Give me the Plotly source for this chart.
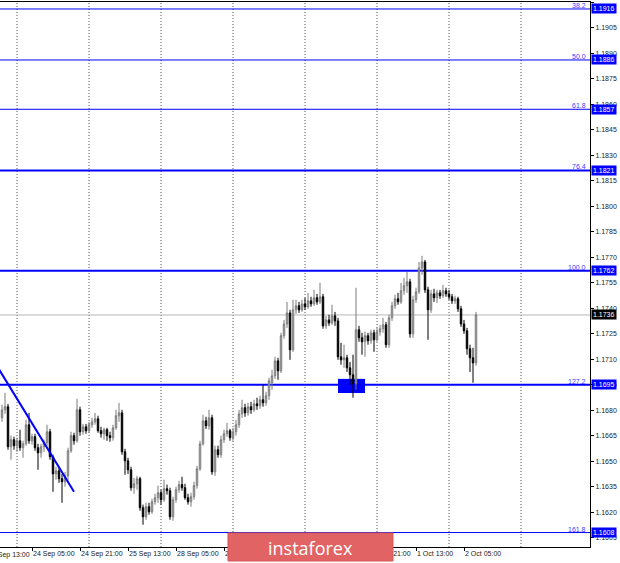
import plotly.graph_objects as go

# ---------------- data (EURUSD H1) ----------------
opens = [1.16755,1.16802,1.16820,1.16585,1.16626,1.16591,1.16620,1.16579,1.16602,1.16714,
         1.16620,1.16644,1.16579,1.16549,1.16585,1.16608,1.16673,1.16526,1.16425,1.16443,
         1.16397,1.16379,1.16414,1.16561,1.16650,1.16620,1.16802,1.16673,1.16702,1.16679,
         1.16714,1.16731,1.16749,1.16679,1.16661,1.16685,1.16650,1.16638,1.16696,1.16767,
         1.16784,1.16555,1.16502,1.16449,1.16344,1.16367,1.16397,1.16226,1.16173,1.16232,
         1.16202,1.16261,1.16285,1.16314,1.16273,1.16338,1.16326,1.16173,1.16273,1.16332,
         1.16362,1.16344,1.16285,1.16261,1.16291,1.16356,1.16455,1.16602,1.16737,1.16708,
         1.16755,1.16437,1.16567,1.16538,1.16626,1.16661,1.16679,1.16638,1.16673,1.16714,
         1.16778,1.16814,1.16784,1.16820,1.16802,1.16837,1.16826,1.16861,1.16843,1.16885,
         1.16961,1.17002,1.17090,1.17031,1.17238,1.17307,1.17372,1.17155,1.17390,1.17414,
         1.17390,1.17425,1.17408,1.17443,1.17425,1.17461,1.17437,1.17467,1.17296,1.17331,
         1.17313,1.17355,1.17325,1.17114,1.17096,1.17108,1.17049,1.17008,1.16955,1.17273,
         1.17226,1.17202,1.17238,1.17208,1.17255,1.17214,1.17261,1.17279,1.17302,1.17185,
         1.17343,1.17414,1.17455,1.17437,1.17502,1.17532,1.17555,1.17249,1.17449,1.17496,
         1.17637,1.17672,1.17508,1.17390,1.17484,1.17461,1.17490,1.17473,1.17502,1.17484,
         1.17467,1.17443,1.17455,1.17396,1.17307,1.17267,1.17161,1.17108,1.17078]
highs = [1.16832,1.16902,1.16837,1.16650,1.16644,1.16638,1.16685,1.16620,1.16743,1.16784,
         1.16661,1.16661,1.16602,1.16602,1.16626,1.16714,1.16690,1.16538,1.16467,1.16461,
         1.16425,1.16437,1.16579,1.16673,1.16667,1.16867,1.16820,1.16719,1.16719,1.16731,
         1.16755,1.16784,1.16767,1.16702,1.16696,1.16696,1.16673,1.16714,1.16802,1.16843,
         1.16802,1.16573,1.16520,1.16467,1.16402,1.16414,1.16408,1.16244,1.16255,1.16255,
         1.16279,1.16308,1.16356,1.16332,1.16391,1.16362,1.16344,1.16291,1.16350,1.16385,
         1.16408,1.16367,1.16308,1.16314,1.16379,1.16473,1.16620,1.16773,1.16761,1.16802,
         1.16773,1.16591,1.16591,1.16650,1.16685,1.16725,1.16690,1.16696,1.16743,1.16802,
         1.16861,1.16837,1.16843,1.16849,1.16861,1.16873,1.16885,1.16949,1.16908,1.16990,
         1.17037,1.17114,1.17108,1.17255,1.17331,1.17437,1.17390,1.17449,1.17449,1.17437,
         1.17449,1.17461,1.17490,1.17467,1.17508,1.17484,1.17549,1.17484,1.17355,1.17361,
         1.17420,1.17378,1.17343,1.17196,1.17185,1.17126,1.17084,1.17126,1.17520,1.17296,
         1.17255,1.17261,1.17255,1.17273,1.17273,1.17284,1.17302,1.17343,1.17319,1.17361,
         1.17437,1.17479,1.17490,1.17549,1.17579,1.17613,1.17573,1.17473,1.17520,1.17672,
         1.17708,1.17684,1.17526,1.17508,1.17514,1.17508,1.17508,1.17537,1.17520,1.17508,
         1.17484,1.17473,1.17467,1.17414,1.17331,1.17284,1.17185,1.17167,1.17378]
lows = [1.16731,1.16778,1.16567,1.16508,1.16567,1.16555,1.16561,1.16520,1.16591,1.16602,
        1.16597,1.16561,1.16449,1.16520,1.16555,1.16591,1.16508,1.16320,1.16391,1.16373,
        1.16255,1.16350,1.16385,1.16549,1.16597,1.16608,1.16650,1.16656,1.16661,1.16667,
        1.16696,1.16714,1.16667,1.16638,1.16626,1.16620,1.16614,1.16620,1.16685,1.16731,
        1.16538,1.16420,1.16425,1.16326,1.16308,1.16332,1.16208,1.16126,1.16155,1.16185,
        1.16190,1.16244,1.16255,1.16244,1.16261,1.16303,1.16155,1.16149,1.16255,1.16314,
        1.16326,1.16273,1.16244,1.16232,1.16273,1.16338,1.16443,1.16591,1.16690,1.16685,
        1.16420,1.16414,1.16520,1.16520,1.16608,1.16644,1.16620,1.16620,1.16650,1.16696,
        1.16755,1.16761,1.16767,1.16778,1.16790,1.16802,1.16808,1.16820,1.16826,1.16861,
        1.16920,1.16984,1.16979,1.17019,1.17220,1.17284,1.17096,1.17143,1.17366,1.17372,
        1.17378,1.17390,1.17396,1.17408,1.17414,1.17420,1.17425,1.17279,1.17279,1.17296,
        1.17302,1.17296,1.17096,1.17067,1.17049,1.17025,1.16949,1.16873,1.16920,1.17202,
        1.17126,1.17114,1.17185,1.17190,1.17143,1.17202,1.17238,1.17255,1.17167,1.17167,
        1.17325,1.17396,1.17420,1.17425,1.17479,1.17490,1.17226,1.17226,1.17431,1.17484,
        1.17596,1.17490,1.17214,1.17372,1.17437,1.17431,1.17455,1.17461,1.17467,1.17449,
        1.17425,1.17425,1.17378,1.17290,1.17249,1.17126,1.17025,1.16961,1.17061]
closes = [1.16802,1.16820,1.16585,1.16626,1.16591,1.16620,1.16579,1.16602,1.16714,1.16620,
          1.16644,1.16579,1.16549,1.16585,1.16608,1.16673,1.16526,1.16425,1.16443,1.16397,
          1.16379,1.16414,1.16561,1.16650,1.16620,1.16802,1.16673,1.16702,1.16679,1.16714,
          1.16731,1.16749,1.16679,1.16661,1.16685,1.16650,1.16638,1.16696,1.16767,1.16784,
          1.16555,1.16502,1.16449,1.16344,1.16367,1.16397,1.16226,1.16173,1.16232,1.16202,
          1.16261,1.16285,1.16314,1.16273,1.16338,1.16326,1.16173,1.16273,1.16332,1.16362,
          1.16344,1.16285,1.16261,1.16291,1.16356,1.16455,1.16602,1.16737,1.16708,1.16755,
          1.16437,1.16567,1.16538,1.16626,1.16661,1.16679,1.16638,1.16673,1.16714,1.16778,
          1.16814,1.16784,1.16820,1.16802,1.16837,1.16826,1.16861,1.16843,1.16885,1.16973,
          1.17002,1.17090,1.17031,1.17238,1.17307,1.17372,1.17155,1.17390,1.17414,1.17390,
          1.17425,1.17408,1.17443,1.17425,1.17461,1.17437,1.17467,1.17296,1.17331,1.17313,
          1.17355,1.17325,1.17114,1.17096,1.17108,1.17049,1.17008,1.16955,1.17273,1.17226,
          1.17202,1.17238,1.17208,1.17255,1.17214,1.17261,1.17279,1.17302,1.17185,1.17343,
          1.17414,1.17455,1.17437,1.17502,1.17532,1.17555,1.17249,1.17449,1.17496,1.17637,
          1.17672,1.17508,1.17390,1.17484,1.17461,1.17490,1.17473,1.17502,1.17484,1.17467,
          1.17443,1.17455,1.17396,1.17307,1.17267,1.17161,1.17108,1.17078,1.17360]

# time-axis labels (bar index -> text); first one sits just off the left edge
time_label_idx = [-6, 10, 26, 42, 58, 74, 90, 106, 122, 138, 154]
time_labels = ["23 Sep 13:00", "24 Sep 05:00", "24 Sep 21:00", "25 Sep 13:00",
               "28 Sep 05:00", "28 Sep 21:00", "29 Sep 13:00", "30 Sep 05:00",
               "30 Sep 21:00", "1 Oct 13:00", "2 Oct 05:00"]
midnight_idx = [5, 29, 53, 77, 101, 125, 149, 173]

# Fibonacci levels
fib_ratios = ["38.2", "50.0", "61.8", "76.4", "100.0", "127.2", "161.8"]
fib_prices = [1.1916, 1.1886, 1.1857, 1.1821, 1.1762, 1.1695, 1.1608]
fib_widths = [1, 1, 1, 2, 2, 2, 1]

current_price = 1.1736
price_ticks = [1.1605, 1.1620, 1.1635, 1.1650, 1.1665, 1.1680, 1.1695, 1.1710,
               1.1725, 1.1740, 1.1755, 1.1770, 1.1785, 1.1800, 1.1815, 1.1830,
               1.1845, 1.1860, 1.1875, 1.1890, 1.1905, 1.1920]

trend_x = [-1, 24]
trend_y = [1.1704, 1.1632]
zone_x = [112, 121]
zone_y = [1.16901, 1.16984]

# ---------------- figure ----------------
XR = [-0.667, 196.0]
YR = [1.15995, 1.19201]
FONT = "Liberation Sans"
BLUE = "#0000ff"

idx = list(range(len(closes)))
fig = go.Figure(go.Candlestick(
    x=idx, open=opens, high=highs, low=lows, close=closes,
    increasing=dict(line=dict(color="#7a7a7a", width=1), fillcolor="#c8c8c8"),
    decreasing=dict(line=dict(color="#000000", width=1), fillcolor="#000000"),
    whiskerwidth=0, hoverinfo="skip", showlegend=False))

shapes = []
for m in midnight_idx:
    shapes.append(dict(type="line", xref="x", yref="paper", x0=m, x1=m, y0=0, y1=1,
                       line=dict(color="#555555", width=1, dash="1px,2px"), layer="below"))
shapes.append(dict(type="line", xref="paper", yref="y", x0=0, x1=1,
                   y0=current_price, y1=current_price,
                   line=dict(color="#b8b8b8", width=1), layer="below"))
for p, w in zip(fib_prices, fib_widths):
    shapes.append(dict(type="line", xref="paper", yref="y", x0=0, x1=1, y0=p, y1=p,
                       line=dict(color=BLUE, width=w), layer="below"))
shapes.append(dict(type="rect", xref="x", yref="y", x0=zone_x[0], x1=zone_x[1],
                   y0=zone_y[0], y1=zone_y[1], fillcolor=BLUE, line=dict(width=0),
                   layer="below"))
shapes.append(dict(type="line", xref="x", yref="y", x0=trend_x[0], x1=trend_x[1],
                   y0=trend_y[0], y1=trend_y[1], line=dict(color=BLUE, width=2),
                   layer="above"))
# watermark banner
shapes.append(dict(type="rect", xref="paper", yref="paper", x0=0.3864, x1=0.6661,
                   y0=-0.0257, y1=0.0257, fillcolor="#e26363",
                   line=dict(color="#d85858", width=1), layer="above"))

ann = []
for r, p in zip(fib_ratios, fib_prices):
    ann.append(dict(xref="paper", yref="y", x=1, y=p, text=r, showarrow=False,
                    xanchor="right", yanchor="bottom", xshift=-2, yshift=-2,
                    font=dict(family=FONT, size=7, color="#3a3aff")))
    ann.append(dict(xref="paper", yref="y", x=1, y=p, text=f"{p:.4f}", showarrow=False,
                    xanchor="left", yanchor="middle", xshift=1, bgcolor=BLUE,
                    borderpad=1, font=dict(family=FONT, size=7, color="#ffffff")))
ann.append(dict(xref="paper", yref="y", x=1, y=current_price, text=f"{current_price:.4f}",
                showarrow=False, xanchor="left", yanchor="middle", xshift=1,
                bgcolor="#000000", borderpad=1, font=dict(family=FONT, size=7, color="#ffffff")))
# first (partially hidden) time label
first_px = (time_label_idx[0] - XR[0]) / (XR[1] - XR[0])
ann.append(dict(xref="paper", yref="paper", x=first_px, y=0, text=time_labels[0],
                showarrow=False, xanchor="left", yanchor="top", xshift=2, yshift=-2,
                font=dict(family=FONT, size=7, color="#222222")))
ann.append(dict(xref="paper", yref="paper", x=0.5263, y=0, text="instaforex",
                showarrow=False, xanchor="center", yanchor="middle", yshift=-1,
                font=dict(family="Open Sans", size=18, color="#ffffff")))

fig.update_layout(
    width=620, height=563, margin=dict(l=0, r=30, t=2, b=16),
    paper_bgcolor="white", plot_bgcolor="white", template="none",
    shapes=shapes, annotations=ann, showlegend=False, hovermode=False,
    font=dict(family=FONT, size=7, color="#222222"),
    xaxis=dict(range=XR, rangeslider=dict(visible=False), showgrid=False, zeroline=False,
               tickmode="array", tickvals=time_label_idx[1:], ticktext=time_labels[1:],
               ticks="outside", ticklen=3, tickcolor="#000", ticklabelposition="outside right",
               tickangle=0,
               showline=True, linecolor="#000", linewidth=1, mirror=True,
               tickfont=dict(family=FONT, size=7, color="#222222"), automargin=False),
    yaxis=dict(range=YR, side="right", showgrid=False, zeroline=False,
               tickmode="array", tickvals=price_ticks,
               ticktext=[f"{v:.4f}" for v in price_ticks],
               ticks="outside", ticklen=3, tickcolor="#000",
               showline=True, linecolor="#000", linewidth=1,
               tickfont=dict(family=FONT, size=7, color="#222222"), automargin=False),
)

fig.write_html("out.html", config={"displayModeBar": False, "staticPlot": True},
               post_script="document.body.style.margin='0';document.body.style.overflow='hidden';")
